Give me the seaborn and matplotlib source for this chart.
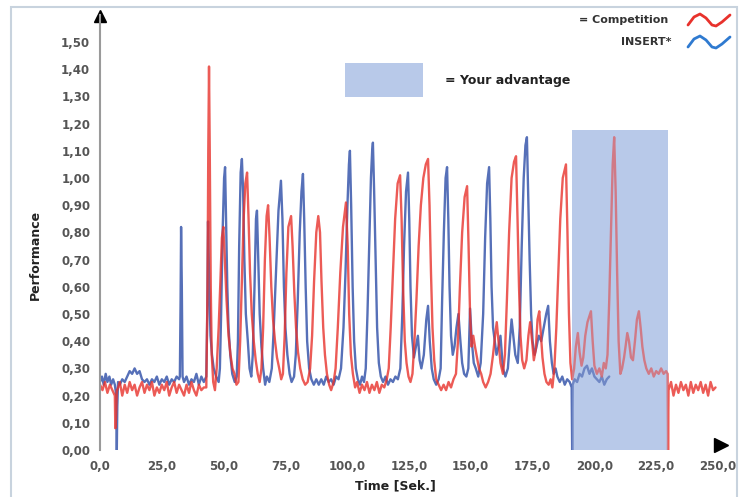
import numpy as np
import pandas as pd
import seaborn as sns
import matplotlib
matplotlib.use('Agg')
import matplotlib.pyplot as plt
from matplotlib.patches import Rectangle
from matplotlib.lines import Line2D
from matplotlib.ticker import FuncFormatter

# INSERT* (blue), one line per peak
blue_time = [0, 0.8, 1.5, 2.3, 3.0, 3.8, 4.5, 5.3, 6.0, 6.6, 6.8, 7.0, 7.3,
             8, 9, 10, 11, 12, 13, 14, 15, 16, 17, 18, 19, 20, 21, 22, 23, 24, 25, 26, 27, 28, 29, 30, 31, 32,
             32.3, 32.6, 32.8, 33.1, 33.4,
             34, 35, 36, 37, 38, 39, 40, 41, 42, 43,
             43.4, 43.7, 44.2, 44.7, 45.3, 46, 47, 48,
             48.5, 49, 49.6, 50.2, 50.6, 51, 51.5, 52, 52.7, 53.5, 54.5, 55.3,
             55.8, 56.3, 56.9, 57.4, 57.9, 58.4, 59, 59.8, 60.5, 61.2,
             61.8, 62.5, 63.1, 63.5, 64, 64.6, 65.3, 66, 66.8, 67.5, 68.5, 69.5,
             70.3, 71.2, 72.2, 73.2, 73.8, 74.4, 75, 75.8, 76.7, 77.5, 78.5,
             79.2, 80, 80.8, 81.5, 82.1, 82.6, 83.2, 83.8, 84.6, 85.5,
             86.5, 87.5, 88.5, 89.5, 90.5, 91.5, 92.5, 93.5, 94.5, 95.5, 96.5,
             97.5, 98.5, 99.3, 100.1, 100.7, 101.1, 101.6, 102.2, 102.8, 103.5, 104.3, 105.2, 106, 106.8, 107.5,
             108.2, 108.9, 109.6, 110.1, 110.4, 110.9, 111.5, 112.1, 112.8, 113.6, 114.5, 115.5, 116.5, 117.5,
             118.5, 119.5, 120.5, 121.5,
             122.3, 123, 123.8, 124.6, 125.1, 125.6, 126.2, 127, 127.8, 128.6, 129.3, 130, 131, 132, 132.7,
             133.4, 134.2, 135, 136, 137, 137.8,
             138.4, 139.1, 139.8, 140.4, 140.9, 141.4, 142, 142.7, 143.4, 144.2, 145, 145.8, 146.5, 147.3,
             148.2, 149, 149.7, 150.4, 151.2, 152, 153, 154,
             155, 155.8, 156.6, 157.4, 157.9, 158.4, 159, 159.7, 160.4, 161.2, 162, 163, 164, 165, 165.8,
             166.5, 167.2, 168,
             169, 169.8, 170.6, 171.4, 172.1, 172.7, 173.2, 173.8, 174.4, 175, 175.8, 176.6, 177.5, 178.5,
             179.5, 180.5, 181.3, 182, 182.8, 183.5,
             184.3, 185, 186, 187, 188, 189, 190, 190.8, 191, 191.2,
             192, 193, 194, 195, 196, 197, 198, 199, 200, 201, 202, 203, 204, 205, 206]
blue_perf = [0.25, 0.27, 0.24, 0.28, 0.25, 0.27, 0.24, 0.26, 0.24, 0.20, 0.0, 0.16, 0.25,
             0.24, 0.26, 0.25, 0.27, 0.29, 0.28, 0.30, 0.28, 0.29, 0.26, 0.25, 0.26, 0.24, 0.26, 0.25, 0.27,
             0.24, 0.26, 0.25, 0.27, 0.24, 0.26, 0.25, 0.27, 0.26,
             0.27, 0.55, 0.82, 0.60, 0.27,
             0.25, 0.27, 0.24, 0.26, 0.25, 0.28, 0.24, 0.27, 0.25, 0.27,
             0.50, 0.84, 0.60, 0.42, 0.35, 0.30, 0.27, 0.25,
             0.30, 0.50, 0.80, 1.00, 1.04, 0.85, 0.60, 0.45, 0.35, 0.28, 0.25, 0.27,
             0.40, 0.75, 1.02, 1.07, 0.95, 0.70, 0.50, 0.40, 0.30, 0.27,
             0.35, 0.60, 0.85, 0.88, 0.70, 0.50, 0.38, 0.30, 0.24, 0.27, 0.25, 0.30,
             0.45, 0.65, 0.88, 0.99, 0.85, 0.60, 0.45, 0.35, 0.28, 0.25, 0.27,
             0.35, 0.55, 0.80, 0.95, 1.015, 0.85, 0.60, 0.40, 0.30, 0.26,
             0.24, 0.26, 0.24, 0.26, 0.24, 0.27, 0.25, 0.26, 0.24, 0.27, 0.26,
             0.30, 0.45, 0.65, 0.90, 1.05, 1.10, 0.90, 0.60, 0.40, 0.30, 0.26, 0.24, 0.27, 0.25, 0.30,
             0.50, 0.75, 1.00, 1.10, 1.13, 0.95, 0.70, 0.45, 0.32, 0.27, 0.25, 0.27, 0.24, 0.26,
             0.25, 0.27, 0.26, 0.30,
             0.50, 0.75, 0.95, 1.02, 0.85, 0.60, 0.42, 0.34, 0.38, 0.42, 0.33, 0.30, 0.35, 0.48, 0.53,
             0.40, 0.30, 0.26, 0.24, 0.26, 0.30,
             0.55, 0.80, 1.00, 1.04, 0.85, 0.60, 0.42, 0.35, 0.38, 0.45, 0.50, 0.40, 0.32, 0.28,
             0.27, 0.30, 0.52, 0.40, 0.32, 0.30, 0.27, 0.32,
             0.50, 0.78, 0.98, 1.04, 0.85, 0.60, 0.45, 0.40, 0.35, 0.38, 0.42, 0.30, 0.27, 0.30, 0.40,
             0.48, 0.42, 0.35,
             0.32, 0.45, 0.75, 1.00, 1.12, 1.15, 0.95, 0.70, 0.50, 0.40, 0.35, 0.38, 0.42, 0.40,
             0.45, 0.50, 0.53, 0.40, 0.32, 0.28,
             0.30, 0.27, 0.25, 0.27, 0.24, 0.26, 0.25, 0.23, 0.0, 0.24,
             0.26, 0.25, 0.28, 0.27, 0.30, 0.31, 0.28, 0.30, 0.27, 0.26, 0.25, 0.27, 0.24, 0.26, 0.27]

# Competition (red)
red_time = [0, 1, 2, 3, 4, 5, 6, 6.2, 6.5, 6.8,
            7, 8, 9, 10, 11, 12, 13, 14, 15, 16, 17, 18,
            19, 20, 21, 22, 23, 24, 25, 26, 27, 28, 29, 30,
            31, 32, 33, 34, 35, 36, 37, 38, 39, 40, 41, 42,
            43, 43.5, 43.8, 44.1, 44.4, 44.8, 45.2, 45.8, 46.5,
            47.2, 48, 48.7, 49.3, 49.9, 50.5, 51.2, 52, 52.8, 53.6, 54.4, 55.2, 56,
            56.7, 57.4, 58.1, 58.8, 59.5, 60.1, 60.7, 61.4, 62.2, 63, 63.8, 64.6,
            65.3, 66, 66.7, 67.4, 68, 68.6, 69.3, 70, 70.8, 71.6, 72.5, 73.3,
            74, 74.7, 75.4, 76.2, 77.3, 77.9, 78.6, 79.3, 80.1, 81, 82, 83, 84,
            85, 85.8, 86.6, 87.5, 88.3, 89, 89.6, 90.3, 91, 91.8, 92.7, 93.5, 94.5,
            95.3, 96.2, 97.2, 98.3, 99.5, 100.2, 100.8, 101.5, 102.3, 103.2,
            104, 105, 106, 107, 108, 109, 110, 111, 112, 113, 114, 115, 116,
            116.8, 117.6, 118.5, 119.4, 120.4, 121.4, 122, 122.6, 123.3, 124, 124.8, 125.6,
            126.4, 127.2, 128, 128.9, 129.8, 130.8, 131.8, 132.7, 133.3, 133.9, 134.5, 135.2, 136,
            137, 138, 139, 140, 141, 142, 143, 144,
            144.8, 145.6, 146.5, 147.5, 148.5, 149.1, 149.7, 150.3, 151, 151.7, 152.5, 153.3, 154.2, 155,
            156, 157, 158,
            159, 159.8, 160.5, 161.2, 162, 163,
            163.8, 164.6, 165.5, 166.5, 167.5, 168.3, 168.9, 169.5, 170.1, 170.8, 171.6,
            172.5, 173.3, 174, 174.8, 175.5, 176.3, 177, 177.7, 178.4, 179, 179.8, 180.6, 181.5, 182.3, 183,
            183.8, 184.6, 185.4, 186.2, 187.2, 188.5, 189.1, 189.7, 190.3, 191,
            191.8, 192.5, 193.3, 194, 194.8, 195.5, 196.3, 197.2, 198.6, 199.3, 200, 201, 202, 203, 203.8,
            204.6,
            205.3, 206, 206.7, 207.4, 208, 208.6, 209.2, 209.8, 210.5,
            211.2, 212, 212.6, 213.3, 214, 214.8, 215.6, 216.4, 217.2, 218, 218.7, 219.4, 220.2, 221,
            222, 223, 224, 225, 226, 227, 228, 229, 229.6, 229.8,
            230, 231, 232, 233, 234, 235, 236, 237, 238, 239,
            240, 241, 242, 243, 244, 245, 246, 247, 248, 249]
red_perf = [0.24, 0.22, 0.25, 0.21, 0.24, 0.22, 0.20, 0.08, 0.12, 0.22,
            0.22, 0.25, 0.20, 0.24, 0.21, 0.25, 0.22, 0.24, 0.20, 0.23, 0.25, 0.21,
            0.24, 0.22, 0.25, 0.20, 0.23, 0.21, 0.24, 0.22, 0.25, 0.20, 0.23, 0.25,
            0.21, 0.24, 0.22, 0.20, 0.24, 0.21, 0.25, 0.22, 0.20, 0.24, 0.22, 0.23,
            0.23, 0.60, 1.10, 1.41, 1.10, 0.60, 0.35, 0.25, 0.22,
            0.30, 0.45, 0.62, 0.78, 0.82, 0.70, 0.55, 0.42, 0.35, 0.30, 0.28, 0.24, 0.25,
            0.40, 0.62, 0.85, 0.98, 1.02, 0.85, 0.65, 0.50, 0.40, 0.33, 0.28, 0.25,
            0.30, 0.45, 0.70, 0.86, 0.90, 0.78, 0.60, 0.48, 0.40, 0.34, 0.30, 0.26,
            0.28, 0.42, 0.65, 0.82, 0.86, 0.75, 0.58, 0.45, 0.36, 0.30, 0.26, 0.24, 0.25,
            0.30, 0.42, 0.62, 0.80, 0.86, 0.80, 0.62, 0.45, 0.35, 0.28, 0.24, 0.22, 0.25,
            0.30, 0.45, 0.65, 0.82, 0.91, 0.75, 0.50, 0.35, 0.28, 0.23,
            0.25, 0.21, 0.24, 0.22, 0.25, 0.21, 0.24, 0.22, 0.25, 0.21, 0.24, 0.23, 0.26,
            0.30, 0.45, 0.65, 0.85, 0.98, 1.01, 0.85, 0.60, 0.40, 0.32, 0.27, 0.25,
            0.28, 0.40, 0.55, 0.75, 0.90, 1.00, 1.05, 1.07, 0.90, 0.65, 0.45, 0.33, 0.26,
            0.24, 0.22, 0.24, 0.22, 0.25, 0.23, 0.26, 0.28,
            0.40, 0.60, 0.80, 0.93, 0.97, 0.75, 0.50, 0.38, 0.42, 0.38, 0.34, 0.30, 0.28, 0.25,
            0.23, 0.25, 0.28,
            0.35, 0.42, 0.47, 0.40, 0.32, 0.28,
            0.35, 0.55, 0.80, 1.00, 1.06, 1.08, 0.85, 0.60, 0.42, 0.33, 0.30,
            0.33, 0.42, 0.47, 0.40, 0.33, 0.37, 0.48, 0.51, 0.42, 0.34, 0.28, 0.25, 0.24, 0.26, 0.23,
            0.30, 0.45, 0.65, 0.85, 1.00, 1.05, 0.80, 0.50, 0.32, 0.26,
            0.30, 0.38, 0.43, 0.36, 0.31, 0.34, 0.42, 0.47, 0.51, 0.40, 0.31, 0.28, 0.30, 0.27, 0.32,
            0.30,
            0.35, 0.55, 0.80, 1.05, 1.15, 0.95, 0.65, 0.40, 0.28,
            0.30, 0.34, 0.38, 0.43, 0.40, 0.34, 0.33, 0.40, 0.48, 0.51, 0.45, 0.38, 0.33, 0.30,
            0.28, 0.30, 0.27, 0.29, 0.28, 0.30, 0.28, 0.29, 0.28, 0.0,
            0.22, 0.25, 0.20, 0.24, 0.21, 0.25, 0.22, 0.24, 0.20, 0.25,
            0.21, 0.24, 0.22, 0.25, 0.21, 0.24, 0.20, 0.25, 0.22, 0.23]

x_ticks = [0, 25, 50, 75, 100, 125, 150, 175, 200, 225, 250]
y_ticks = [0.0, 0.1, 0.2, 0.3, 0.4, 0.5, 0.6, 0.7, 0.8, 0.9, 1.0, 1.1, 1.2, 1.3, 1.4, 1.5]

# "your advantage" region
adv_start, adv_end, adv_top = 190.9, 229.6, 1.176

red = '#e8322c'
blue = '#2c4ca6'
box_col = '#b8c9e9'

df_blue = pd.DataFrame({'time': blue_time, 'perf': blue_perf})
df_red = pd.DataFrame({'time': red_time, 'perf': red_perf})

sns.set_style('white')
plt.rcParams['font.family'] = ['DejaVu Sans']
plt.rcParams['font.weight'] = 'bold'

fig = plt.figure(figsize=(7.4, 4.97), dpi=100)
ax = fig.add_axes([100/740, 47/497, 618/740, 435.2/497])
ax.set_xlim(0, 250)
ax.set_ylim(0, 1.6)

ax.add_patch(Rectangle((adv_start, 0), adv_end-adv_start, adv_top, facecolor=box_col, lw=0, zorder=0))

sns.lineplot(data=df_blue, x='time', y='perf', sort=False, estimator=None, color=blue, lw=1.7, alpha=0.8, ax=ax)
sns.lineplot(data=df_red, x='time', y='perf', sort=False, estimator=None, color=red, lw=1.7, alpha=0.8, ax=ax)

# same colour laid thinly over the lines, so they look muted inside the box
ax.add_patch(Rectangle((adv_start, 0), adv_end-adv_start, adv_top, facecolor=box_col, lw=0, alpha=0.35, zorder=5))

# legend-ish patch
ax.add_patch(Rectangle((99.1, 1.298), 31.6, 0.125, facecolor=box_col, lw=0))
ax.text(139.6, 1.36, '= Your advantage', fontsize=9, color='#222', va='center', ha='left')

ax.set_xticks(x_ticks)
ax.set_yticks(y_ticks)
ax.xaxis.set_major_formatter(FuncFormatter(lambda v, p: '{:.1f}'.format(v).replace('.', ',')))
ax.yaxis.set_major_formatter(FuncFormatter(lambda v, p: '{:.2f}'.format(v).replace('.', ',')))
ax.tick_params(axis='y', length=5, width=1, color='#999', direction='out', pad=2, labelsize=8.5, labelcolor='#555')
ax.tick_params(axis='x', length=3, width=1, color='#999', direction='out', pad=4, labelsize=8.5, labelcolor='#555')
ax.set_xlabel('')
ax.set_ylabel('')
for s in ['top', 'right', 'bottom']:
    ax.spines[s].set_visible(False)
ax.spines['left'].set_color('#9a9a9a')
ax.spines['left'].set_linewidth(1.5)

# axis arrows
ax.plot(0, 1.595, marker='^', ms=9, color='black', clip_on=False)
ax.plot(251.2, 0.02, marker='>', ms=10, color='black', clip_on=False)

fig.text(35/740, 1-255/497, 'Performance', rotation=90, fontsize=9, color='#222', ha='center', va='center')
fig.text(395/740, 1-486/497, 'Time [Sek.]', fontsize=9, color='#222', ha='center', va='center')

# top right legend
fig.text(668/740, 1-20/497, '= Competition', fontsize=8, color='#333', ha='right', va='center')
fig.text(672/740, 1-42/497, 'INSERT*', fontsize=8, color='#333', ha='right', va='center')
wave_x = [688, 694, 700, 706, 712, 716, 722, 730]
wave_y = [5, -3, -6, -2, 5, 6, 2, -5]
fig.add_artist(Line2D([x/740 for x in wave_x], [1-(20+y)/497 for y in wave_y], color='#e8322c', lw=2))
fig.add_artist(Line2D([x/740 for x in wave_x], [1-(42+y)/497 for y in wave_y], color='#2f7ad0', lw=2))

# outer frame
fig.add_artist(Rectangle((11/740, -0.01), 726/740, 1-7/497+0.01, fill=False, edgecolor='#c8d3de', lw=1.5,
                         transform=fig.transFigure))

fig.savefig('out.png', dpi=100)
